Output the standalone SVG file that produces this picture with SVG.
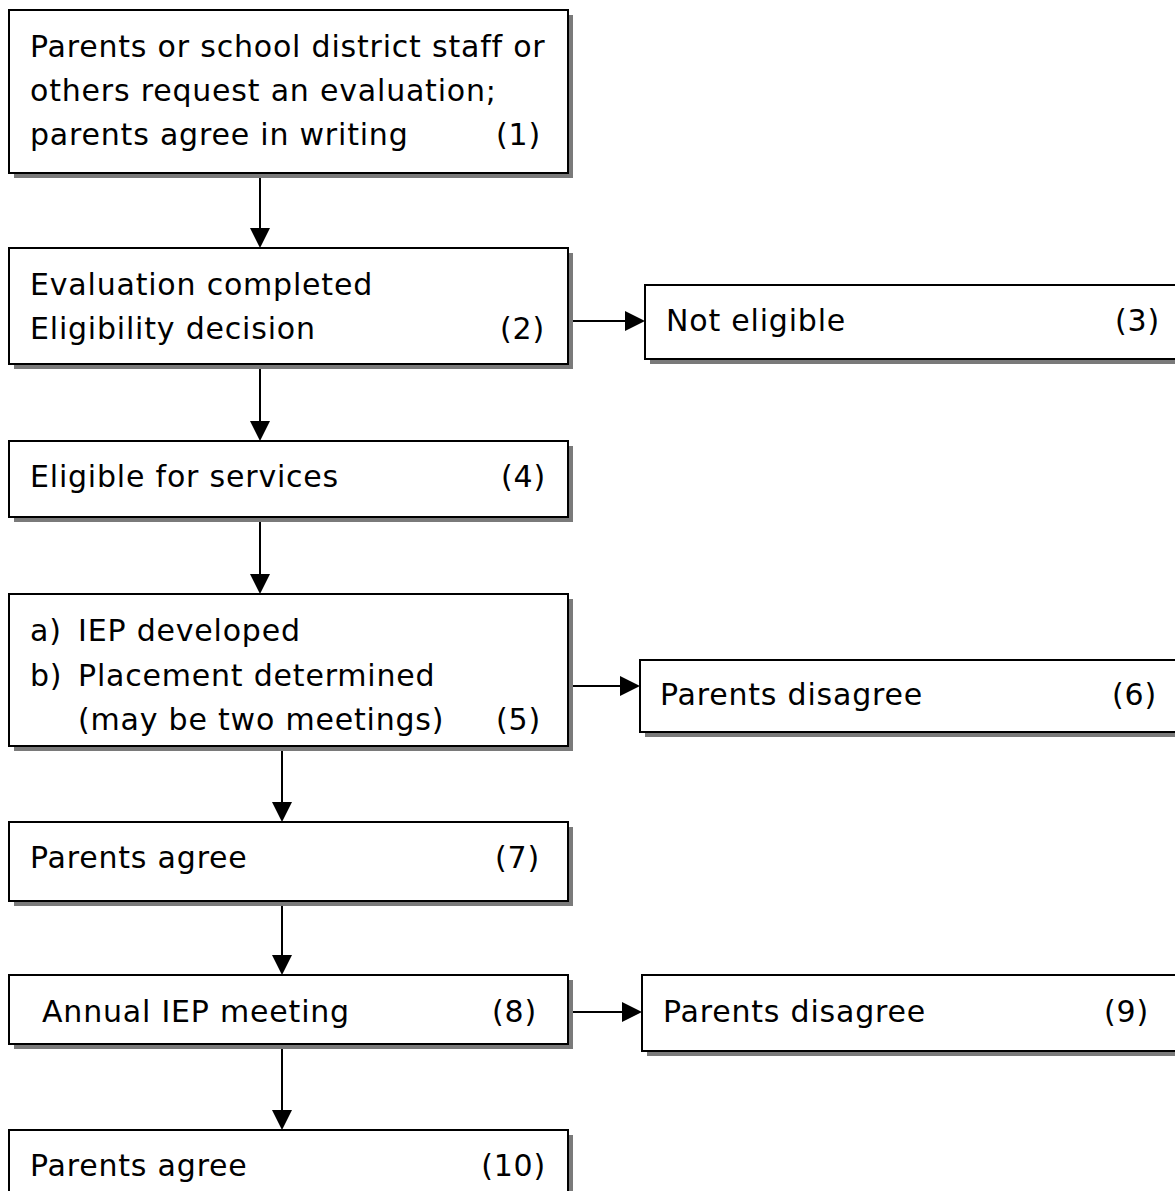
<svg xmlns="http://www.w3.org/2000/svg" width="1175" height="1191" viewBox="0 0 1175 1191">
<style>
.box{fill:#fff;stroke:#000;stroke-width:2}
.sh{fill:#7a7a7a}
text{font-family:"DejaVu Sans","Liberation Sans",sans-serif;font-size:30px;letter-spacing:0.8px;fill:#000}
.n{text-anchor:end}
.ln{stroke:#000;stroke-width:2;fill:none}
</style>
<rect width="1175" height="1191" fill="#fff"/>
<g id="connectors">
<line class="ln" x1="260" y1="173" x2="260" y2="229"/>
<path d="M250,228 L270,228 L260,248 Z"/>
<line class="ln" x1="260" y1="364" x2="260" y2="422"/>
<path d="M250,421 L270,421 L260,441 Z"/>
<line class="ln" x1="260" y1="517" x2="260" y2="575"/>
<path d="M250,574 L270,574 L260,594 Z"/>
<line class="ln" x1="282" y1="746" x2="282" y2="803"/>
<path d="M272,802 L292,802 L282,822 Z"/>
<line class="ln" x1="282" y1="901" x2="282" y2="956"/>
<path d="M272,955 L292,955 L282,975 Z"/>
<line class="ln" x1="282" y1="1044" x2="282" y2="1111"/>
<path d="M272,1110 L292,1110 L282,1130 Z"/>
<line class="ln" x1="573" y1="321" x2="626" y2="321"/>
<path d="M625,311 L645,321 L625,331 Z"/>
<line class="ln" x1="573" y1="686" x2="621" y2="686"/>
<path d="M620,676 L640,686 L620,696 Z"/>
<line class="ln" x1="573" y1="1012" x2="623" y2="1012"/>
<path d="M622,1002 L642,1012 L622,1022 Z"/>
</g>
<g id="n1">
<rect class="sh" x="14" y="15" width="559" height="163"/>
<rect class="box" x="9" y="10" width="559" height="163"/>
<text x="30" y="57">Parents or school district staff or</text>
<text x="30" y="101">others request an evaluation;</text>
<text x="30" y="145">parents agree in writing</text>
<text class="n" x="541" y="145">(1)</text>
</g>
<g id="n2">
<rect class="sh" x="14" y="253" width="559" height="116"/>
<rect class="box" x="9" y="248" width="559" height="116"/>
<text x="30" y="295">Evaluation completed</text>
<text x="30" y="339">Eligibility decision</text>
<text class="n" x="545" y="339">(2)</text>
</g>
<g id="n3">
<rect class="sh" x="650" y="290" width="530" height="74"/>
<rect class="box" x="645" y="285" width="532" height="74"/>
<text x="666" y="331">Not eligible</text>
<text class="n" x="1160" y="331">(3)</text>
</g>
<g id="n4">
<rect class="sh" x="14" y="446" width="559" height="76"/>
<rect class="box" x="9" y="441" width="559" height="76"/>
<text x="30" y="487">Eligible for services</text>
<text class="n" x="546" y="487">(4)</text>
</g>
<g id="n5">
<rect class="sh" x="14" y="599" width="559" height="152"/>
<rect class="box" x="9" y="594" width="559" height="152"/>
<text x="30" y="641">a)</text>
<text x="78" y="641">IEP developed</text>
<text x="30" y="686">b)</text>
<text x="78" y="686">Placement determined</text>
<text x="78" y="730">(may be two meetings)</text>
<text class="n" x="541" y="730">(5)</text>
</g>
<g id="n6">
<rect class="sh" x="645" y="665" width="535" height="72"/>
<rect class="box" x="640" y="660" width="537" height="72"/>
<text x="660" y="705">Parents disagree</text>
<text class="n" x="1157" y="705">(6)</text>
</g>
<g id="n7">
<rect class="sh" x="14" y="827" width="559" height="79"/>
<rect class="box" x="9" y="822" width="559" height="79"/>
<text x="30" y="868">Parents agree</text>
<text class="n" x="540" y="868">(7)</text>
</g>
<g id="n8">
<rect class="sh" x="14" y="980" width="559" height="69"/>
<rect class="box" x="9" y="975" width="559" height="69"/>
<text x="42" y="1022">Annual IEP meeting</text>
<text class="n" x="537" y="1022">(8)</text>
</g>
<g id="n9">
<rect class="sh" x="647" y="980" width="533" height="76"/>
<rect class="box" x="642" y="975" width="535" height="76"/>
<text x="663" y="1022">Parents disagree</text>
<text class="n" x="1149" y="1022">(9)</text>
</g>
<g id="n10">
<rect class="sh" x="14" y="1135" width="559" height="80"/>
<rect class="box" x="9" y="1130" width="559" height="80"/>
<text x="30" y="1176">Parents agree</text>
<text class="n" x="546" y="1176">(10)</text>
</g>
</svg>
